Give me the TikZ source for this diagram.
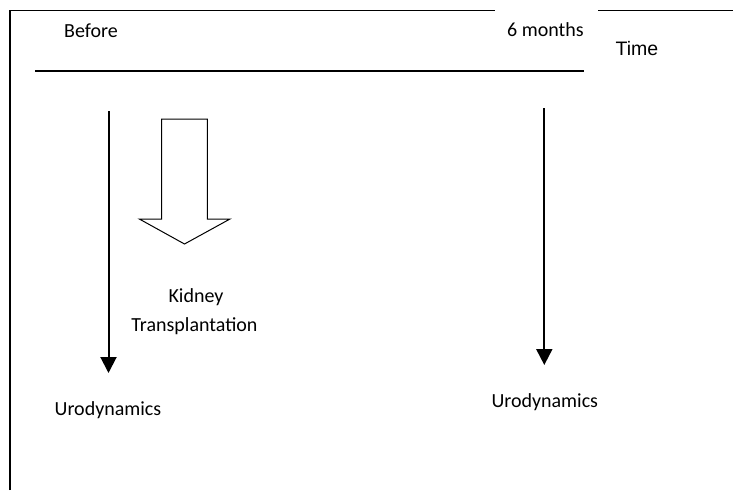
\documentclass[tikz,border=0pt]{standalone}
\usepackage{fontspec}
\setmainfont{Carlito}
\newfontfamily\arialfont{Liberation Sans}
\usetikzlibrary{arrows.meta}
\tikzset{
  lbl/.style={anchor=base, inner sep=0pt, font=\fontsize{20}{24}\selectfont},
  frameline/.style={line width=1.8pt},
  timeline/.style={line width=1.5pt},
  downarrow/.style={line width=2pt, -{Triangle[width=16pt,length=16pt]}},
  blockarrow/.style={line width=1pt, fill=white, line join=miter}
}
\begin{document}
\begin{tikzpicture}[x=1pt,y=-1pt]
\useasboundingbox (0,0) rectangle (733,490);
% frame
\coordinate (fbl) at (10,490);
\coordinate (ftl) at (10,10.5);
\coordinate (ftr) at (733,10.5);
\draw[frameline] (fbl) -- (ftl) -- (ftr);
\fill[white] (495,8.5) rectangle (598,12.5);
% labels
\node[lbl] (before) at (91,37.5) {Before};
\node[lbl] (six) at (545.5,36) {6 months};
\node[lbl, font=\fontsize{19.5}{24}\arialfont] (time) at (637,55.7) {Time};
% timeline
\coordinate (tl) at (35,71);
\coordinate (tr) at (583.5,71);
\draw[timeline] (tl) -- (tr);
% left arrow
\coordinate (la) at (108.5,111);
\coordinate (lb) at (108.5,373);
\draw[downarrow] (la) -- (lb);
% right arrow
\coordinate (ra) at (544.3,108);
\coordinate (rb) at (544.3,365);
\draw[downarrow] (ra) -- (rb);
% block arrow
\draw[blockarrow] (161.7,119) -- (207.3,119) -- (207.3,219) -- (230,219) -- (184.5,244) -- (139.3,219) -- (161.7,219) -- cycle;
% texts
\node[lbl] (kid) at (196,302.3) {Kidney};
\node[lbl] (trans) at (194.5,331.7) {Transplantation};
\node[lbl] (uroL) at (108,415) {Urodynamics};
\node[lbl] (uroR) at (544.8,407.7) {Urodynamics};
\end{tikzpicture}
\end{document}
